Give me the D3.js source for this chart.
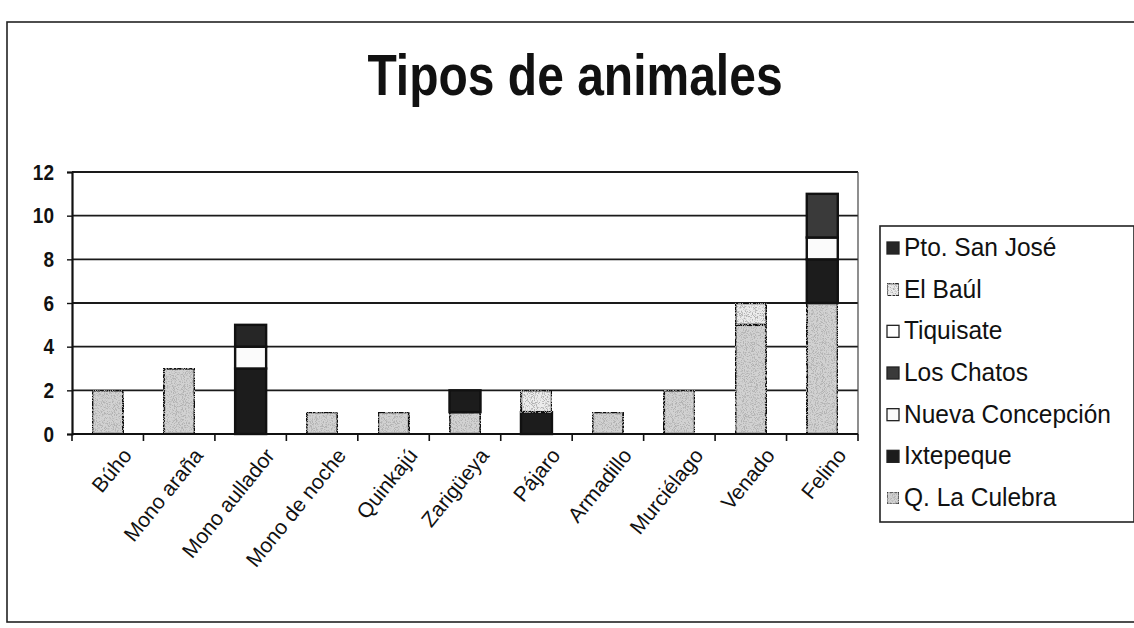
<!DOCTYPE html>
<html>
<head>
<meta charset="utf-8">
<script src="https://cdn.jsdelivr.net/npm/d3@7"></script>
<style>
  html, body { margin: 0; padding: 0; background: #ffffff; }
  svg { display: block; }
  text { font-family: Arial, "Liberation Sans", sans-serif; fill: #111; }
</style>
</head>
<body>
<svg id="chart" width="1134" height="628"></svg>
<script>
// Categories (x axis)
const categories = ["Búho", "Mono araña", "Mono aullador", "Mono de noche", "Quinkajú",
  "Zarigüeya", "Pájaro", "Armadillo", "Murciélago", "Venado", "Felino"];

// Series, in stacking order (bottom to top)
const seriesNames = ["Q. La Culebra", "Ixtepeque", "Nueva Concepción", "Los Chatos",
  "Tiquisate", "El Baúl", "Pto. San José"];

const culebra         = [2, 3, 0, 1, 1, 1, 0, 1, 2, 5, 6];
const ixtepeque       = [0, 0, 3, 0, 0, 1, 1, 0, 0, 0, 2];
const nuevaConcepcion = [0, 0, 1, 0, 0, 0, 0, 0, 0, 0, 1];
const losChatos       = [0, 0, 0, 0, 0, 0, 0, 0, 0, 0, 2];
const tiquisate       = [0, 0, 0, 0, 0, 0, 0, 0, 0, 0, 0];
const elBaul          = [0, 0, 0, 0, 0, 0, 1, 0, 0, 1, 0];
const ptoSanJose      = [0, 0, 1, 0, 0, 0, 0, 0, 0, 0, 0];

const yTicks = [0, 2, 4, 6, 8, 10, 12];

const seriesValues = [culebra, ixtepeque, nuevaConcepcion, losChatos, tiquisate, elBaul, ptoSanJose];
const seriesFill = ["#d2d2d2", "#1c1c1c", "#fbfbfb", "#3a3a3a", "#ffffff", "#ececec", "#262626"];
const seriesSpeckle = [true, false, false, false, false, true, false];

const table = categories.map((c, i) => {
  const row = { category: c };
  seriesNames.forEach((s, k) => { row[s] = seriesValues[k][i]; });
  return row;
});

const svg = d3.select("#chart");
const defs = svg.append("defs");

// grainy dot texture for the light grey fills
const f = defs.append("filter").attr("id", "speckle")
  .attr("x", 0).attr("y", 0).attr("width", "100%").attr("height", "100%");
f.append("feTurbulence").attr("type", "fractalNoise").attr("baseFrequency", 1.1)
  .attr("numOctaves", 2).attr("seed", 4).attr("result", "noise");
f.append("feColorMatrix").attr("in", "noise").attr("type", "matrix")
  .attr("values", "0 0 0 0 0.45  0 0 0 0 0.45  0 0 0 0 0.45  6 0 0 0 -2.9")
  .attr("result", "dots");
f.append("feComposite").attr("in", "dots").attr("in2", "SourceGraphic")
  .attr("operator", "in").attr("result", "clipped");
const m = f.append("feMerge");
m.append("feMergeNode").attr("in", "SourceGraphic");
m.append("feMergeNode").attr("in", "clipped");

// outer chart frame
svg.append("rect")
  .attr("x", 7).attr("y", 22).attr("width", 1140).attr("height", 600)
  .attr("fill", "none").attr("stroke", "#222").attr("stroke-width", 1.6);

// title
svg.append("text")
  .attr("transform", "translate(575,95) scale(1,1.18)")
  .attr("text-anchor", "middle")
  .attr("font-size", 48).attr("font-weight", "bold")
  .text("Tipos de animales");

const plot = { left: 72, right: 858, top: 172, bottom: 434 };

const x = d3.scaleBand().domain(categories)
  .range([plot.left, plot.right]).paddingInner(0).paddingOuter(0);
const y = d3.scaleLinear().domain([0, 12]).range([plot.bottom, plot.top]);
const barW = 31;

// horizontal gridlines
svg.append("g").selectAll("line").data(yTicks.filter(t => t > 0)).join("line")
  .attr("x1", plot.left).attr("x2", plot.right)
  .attr("y1", d => y(d)).attr("y2", d => y(d))
  .attr("stroke", "#1a1a1a").attr("stroke-width", 1.8);

// right edge of the plot area
svg.append("line")
  .attr("x1", plot.right).attr("x2", plot.right)
  .attr("y1", plot.top).attr("y2", plot.bottom)
  .attr("stroke", "#444").attr("stroke-width", 1.2);

// stacked bars
const stack = d3.stack().keys(seriesNames)(table);
const barsG = svg.append("g");
stack.forEach((layer, k) => {
  barsG.append("g")
    .selectAll("rect")
    .data(layer.filter(d => d[1] - d[0] > 0))
    .join("rect")
    .attr("x", d => x(d.data.category) + (x.bandwidth() - barW) / 2)
    .attr("width", barW)
    .attr("y", d => y(d[1]))
    .attr("height", d => y(d[0]) - y(d[1]))
    .attr("fill", seriesFill[k])
    .attr("filter", seriesSpeckle[k] ? "url(#speckle)" : null)
    .attr("stroke", "#111").attr("stroke-width", 2.4);
});

// y axis
const yAxis = svg.append("g")
  .attr("transform", `translate(${plot.left},0)`)
  .call(d3.axisLeft(y).tickValues(yTicks).tickSize(5).tickPadding(0).tickFormat(d3.format("d")));
yAxis.select(".domain").attr("stroke", "#111").attr("stroke-width", 2.2);
yAxis.selectAll(".tick line").attr("stroke", "#111").attr("stroke-width", 1.4);
yAxis.selectAll(".tick text")
  .attr("x", null).attr("dy", null)
  .attr("transform", "translate(-18,7) scale(1,1.18)")
  .attr("font-size", 19).attr("font-weight", "bold").attr("fill", "#111")
  .attr("font-family", "Arial, 'Liberation Sans', sans-serif");

// x axis baseline with ticks between categories
svg.append("line")
  .attr("x1", plot.left).attr("x2", plot.right)
  .attr("y1", plot.bottom).attr("y2", plot.bottom)
  .attr("stroke", "#111").attr("stroke-width", 2.2);
const boundaries = categories.map(c => x(c)).concat([plot.right]);
svg.append("g").selectAll("line").data(boundaries).join("line")
  .attr("x1", d => d).attr("x2", d => d)
  .attr("y1", plot.bottom).attr("y2", plot.bottom + 7)
  .attr("stroke", "#111").attr("stroke-width", 1.6);

// rotated category labels
svg.append("g").selectAll("text").data(categories).join("text")
  .attr("transform", d => `translate(${x(d) + x.bandwidth() / 2 + 25},${plot.bottom + 22}) rotate(-51)`)
  .attr("text-anchor", "end")
  .attr("font-size", 21)
  .text(d => d);

// legend (listed top to bottom in reverse stacking order)
const legend = { x: 880, y: 226, w: 254, h: 296 };
svg.append("rect")
  .attr("x", legend.x).attr("y", legend.y).attr("width", legend.w).attr("height", legend.h)
  .attr("fill", "#fff").attr("stroke", "#222").attr("stroke-width", 1.6);

const legendOrder = d3.range(seriesNames.length).reverse();
const ly = d3.scalePoint().domain(legendOrder).range([256, 506]);
const lg = svg.append("g").selectAll("g").data(legendOrder).join("g")
  .attr("transform", k => `translate(0,${ly(k)})`);
lg.append("rect")
  .attr("x", 887).attr("y", -14).attr("width", 12).attr("height", 12)
  .attr("fill", k => seriesFill[k])
  .attr("filter", k => seriesSpeckle[k] ? "url(#speckle)" : null)
  .attr("stroke", "#222").attr("stroke-width", 1.3);
lg.append("text")
  .attr("transform", "translate(904,0) scale(1,1.05)")
  .attr("font-size", 24.5)
  .text(k => seriesNames[k]);
</script>
</body>
</html>
